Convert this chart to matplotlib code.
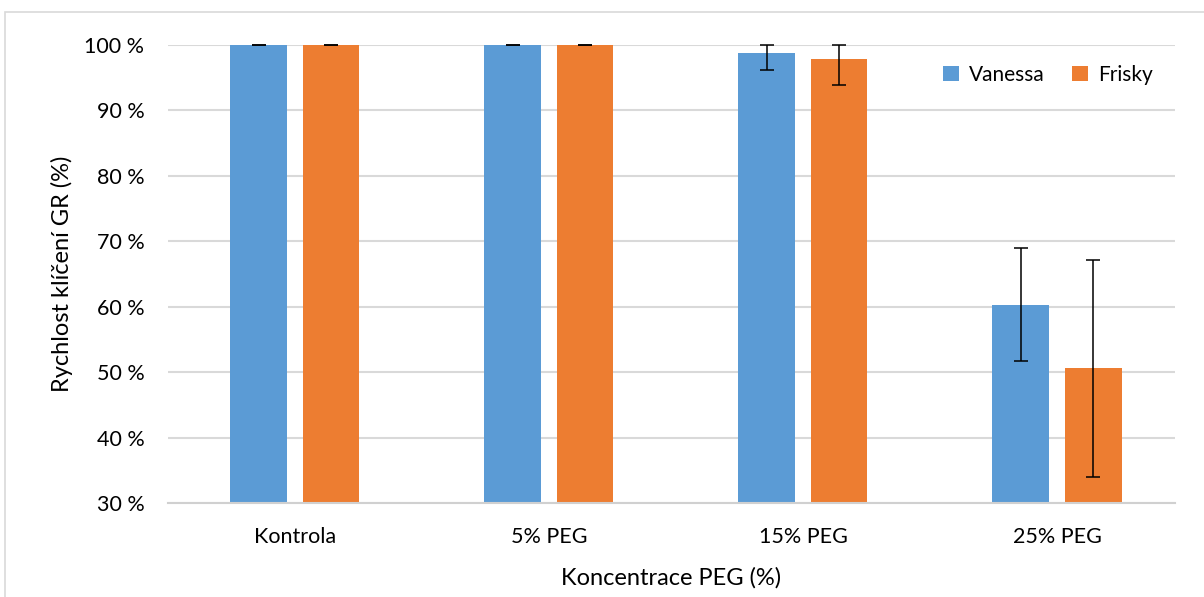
import numpy as np
import matplotlib.pyplot as plt
from matplotlib.patches import Rectangle

# data
kategorie = ['Kontrola', '5% PEG', '15% PEG', '25% PEG']
vanessa = [100, 100, 98.8, 60.3]
vanessa_err = [0, 0, 2.6, 8.6]
frisky = [100, 100, 97.9, 50.6]
frisky_err = [0, 0, 4.0, 16.6]
yticks = [30, 40, 50, 60, 70, 80, 90, 100]

plt.rcParams['font.family'] = ['Lato', 'DejaVu Sans']

fig = plt.figure(figsize=(12.04, 5.97), dpi=100)
# light frame of the chart area
fig.patches.append(Rectangle((0.004, -0.01), 1.0, 0.99, transform=fig.transFigure,
                             fill=False, edgecolor='#d9d9d9', lw=1.2))
ax = fig.add_axes([0.1395, 0.1575, 0.8365, 0.7671])

x = np.arange(len(kategorie))
w = 0.222
off = 0.143


def clip_err(vals, errs):
    # Excel clips error bars at the axis maximum (100 %)
    lower = errs
    upper = [min(v + e, 100) - v for v, e in zip(vals, errs)]
    return [lower, upper]


ax.bar(x - off, vanessa, w, color='#5b9bd5', label='Vanessa', zorder=2)
ax.bar(x + off, frisky, w, color='#ed7d31', label='Frisky', zorder=2)
ax.errorbar(x - off, vanessa, yerr=clip_err(vanessa, vanessa_err), fmt='none',
            ecolor='black', elinewidth=1.1, capsize=5, capthick=1.1, zorder=3, clip_on=False)
ax.errorbar(x + off, frisky, yerr=clip_err(frisky, frisky_err), fmt='none',
            ecolor='black', elinewidth=1.1, capsize=5, capthick=1.1, zorder=3, clip_on=False)

ax.set_ylim(30, 100)
ax.set_xlim(-0.5, 3.465)
ax.set_yticks(yticks)
ax.set_yticklabels([f'{t} %' for t in yticks], fontsize=15.5)
ax.set_xticks(x)
ax.set_xticklabels(kategorie, fontsize=15.5)
ax.tick_params(length=0, pad=17)
ax.tick_params(axis='x', pad=17)
ax.grid(axis='y', color='#d9d9d9', lw=1.5, zorder=0)
ax.set_axisbelow(True)
for s in ['top', 'right', 'left']:
    ax.spines[s].set_visible(False)
ax.spines['bottom'].set_color('#d0d0d0')
ax.spines['bottom'].set_linewidth(1.5)

ax.set_xlabel('Koncentrace PEG (%)', fontsize=17, labelpad=15)
ax.set_ylabel('Rychlost klíčení GR (%)', fontsize=17, labelpad=8)

ax.legend(loc='center', bbox_to_anchor=(0.874, 0.935), ncol=2, frameon=False,
          fontsize=15, handlelength=0.75, handleheight=0.75, columnspacing=1.3,
          handletextpad=0.5)

plt.savefig('out.png', dpi=100)
